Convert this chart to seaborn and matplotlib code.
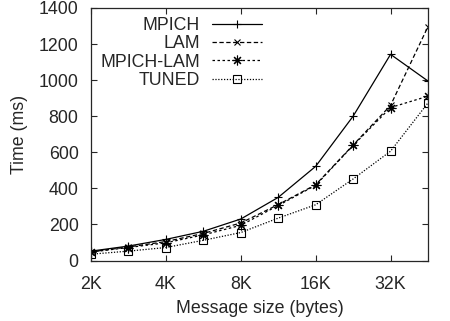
import numpy as np
import pandas as pd
import seaborn as sns
import matplotlib
matplotlib.use("Agg")
import matplotlib.pyplot as plt

# === Data ===
msg_size = [2048, 2896, 4096, 5793, 8192, 11585, 16384, 23170, 32768, 46341]
mpich = [52, 80, 117, 162, 230, 350, 522, 800, 1143, 995]
lam = [48, 75, 105, 150, 208, 310, 420, 640, 860, 1297]
mpich_lam = [47, 72, 98, 142, 195, 305, 417, 638, 848, 911]
tuned = [35, 52, 72, 112, 155, 235, 309, 452, 606, 874]

xtick_vals = [2048, 4096, 8192, 16384, 32768]
xtick_labels = ["2K", "4K", "8K", "16K", "32K"]
ytick_vals = [0, 200, 400, 600, 800, 1000, 1200, 1400]

series = {
    "MPICH": mpich,
    "LAM": lam,
    "MPICH-LAM": mpich_lam,
    "TUNED": tuned,
}

# === Style ===
sns.set_style("ticks")
plt.rcParams["font.family"] = ["Liberation Sans", "DejaVu Sans"]
plt.rcParams["font.size"] = 12.8

styles = {
    "MPICH": dict(marker="+", dashes=(None, None), ms=6, ls="-"),
    "LAM": dict(marker="x", dashes=(3.5, 2), ms=5, ls="--"),
    "MPICH-LAM": dict(marker=(8, 2, 0), dashes=(2, 2), ms=7, ls="--"),
    "TUNED": dict(marker="s", dashes=(1, 1.3), ms=6, ls=":"),
}

fig = plt.figure(figsize=(4.5, 3.21), dpi=100)
ax = fig.add_axes([91 / 450, 1 - 260.5 / 321, (428 - 91) / 450, (260.5 - 8) / 321])

for name, vals in series.items():
    st = styles[name]
    sns.lineplot(x=msg_size, y=vals, ax=ax, color="k", lw=0.9,
                 marker=st["marker"], markersize=st["ms"],
                 markeredgecolor="k", markerfacecolor="none",
                 markeredgewidth=0.8, label=name)
    line = ax.get_lines()[-1]
    if st["ls"] != "-":
        line.set_dashes(st["dashes"])

ax.set_xscale("log", base=2)
ax.set_xlim(2048, 46341)
ax.set_ylim(0, 1400)
ax.set_xticks(xtick_vals)
ax.set_xticklabels(xtick_labels)
ax.xaxis.set_minor_locator(matplotlib.ticker.NullLocator())
ax.set_yticks(ytick_vals)

ax.tick_params(direction="in", top=True, right=True, length=4, width=0.8,
               labelsize=12.8)
ax.tick_params(axis="x", pad=11)
ax.tick_params(axis="y", pad=9)
for sp in ax.spines.values():
    sp.set_linewidth(0.9)
    sp.set_visible(True)

ax.set_xlabel("Message size (bytes)", fontsize=12.8, labelpad=5)
ax.set_ylabel("Time (ms)", fontsize=12.8, labelpad=8)

ax.legend(loc="upper right", bbox_to_anchor=((262 - 91) / 337, 0.965),
          frameon=False, markerfirst=False, handlelength=2.8,
          handletextpad=0.7, labelspacing=0.08, borderpad=0,
          borderaxespad=0, fontsize=12.8)

fig.savefig("out.png", dpi=100)
